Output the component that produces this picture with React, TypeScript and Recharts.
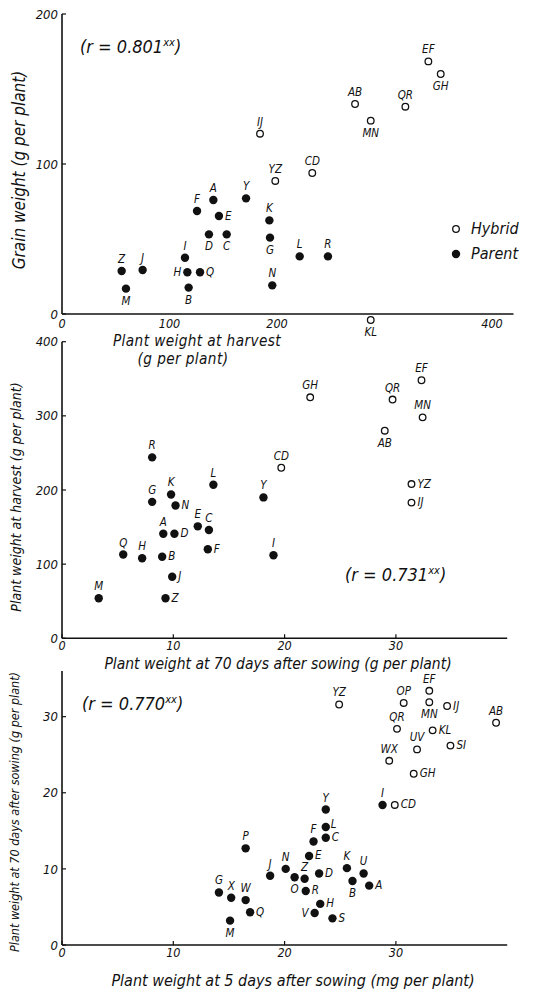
import React from "react";
import { ScatterChart, Scatter, XAxis, YAxis, Legend, ReferenceLine } from "recharts";

type Pt = [string, number, number];
type Side = "t" | "b" | "l" | "r" | "tr";

// panel 1: plant weight at harvest (x) vs grain weight (y), g per plant
const harvestGrainParents: Pt[] = [
  ["Z", 55.5, 28.7], ["M", 59.5, 16.9], ["J", 75, 29.3], ["I", 114.4, 37.5],
  ["H", 116.6, 27.8], ["Q", 128.4, 27.8], ["B", 117.8, 17.6], ["F", 125.6, 68.7],
  ["A", 140.8, 76], ["E", 146, 65.3], ["D", 136.7, 53.1], ["C", 153.2, 53.1],
  ["Y", 171.2, 77.1], ["K", 192.9, 62.4], ["G", 193.5, 50.9], ["N", 195.6, 19.1],
  ["L", 221.1, 38.4], ["R", 247.4, 38.4],
];
const harvestGrainHybrids: Pt[] = [
  ["IJ", 184.2, 120.2], ["YZ", 198.4, 88.7], ["CD", 232.8, 94], ["AB", 272.6, 140],
  ["MN", 287.2, 128.9], ["QR", 319.4, 138.2], ["EF", 340.8, 168.4], ["GH", 352.3, 160],
  ["KL", 287.2, -4],
];

// panel 2: plant weight at 70 days (x) vs plant weight at harvest (y)
const day70HarvestParents: Pt[] = [
  ["M", 3.3, 54], ["Q", 5.5, 113], ["H", 7.2, 108], ["R", 8.1, 244], ["G", 8.1, 184],
  ["A", 9.1, 141], ["B", 9.0, 110], ["K", 9.8, 194], ["N", 10.2, 179], ["D", 10.1, 141],
  ["J", 9.9, 83], ["Z", 9.3, 54], ["E", 12.2, 151], ["C", 13.2, 146], ["F", 13.1, 120],
  ["L", 13.6, 207], ["Y", 18.1, 190], ["I", 19.0, 112],
];
const day70HarvestHybrids: Pt[] = [
  ["GH", 22.3, 325], ["CD", 19.7, 230], ["QR", 29.7, 322], ["AB", 29.0, 280],
  ["EF", 32.3, 348], ["MN", 32.4, 298], ["YZ", 31.4, 208], ["IJ", 31.4, 183],
];

// panel 3: plant weight at 5 days, mg (x) vs plant weight at 70 days, g (y)
const day5Day70Parents: Pt[] = [
  ["G", 14.1, 6.9], ["X", 15.2, 6.2], ["W", 16.5, 5.9], ["Q", 16.9, 4.3], ["M", 15.1, 3.2],
  ["P", 16.5, 12.7], ["J", 18.7, 9.1], ["N", 20.1, 10.0], ["O", 20.9, 8.9], ["Z", 21.8, 8.7],
  ["R", 21.9, 7.1], ["E", 22.2, 11.7], ["F", 22.6, 13.6], ["V", 22.7, 4.2], ["H", 23.2, 5.4],
  ["D", 23.1, 9.4], ["L", 23.7, 15.5], ["C", 23.7, 14.1], ["Y", 23.7, 17.8], ["S", 24.3, 3.5],
  ["K", 25.6, 10.1], ["B", 26.1, 8.4], ["U", 27.1, 9.4], ["A", 27.6, 7.8], ["I", 28.8, 18.4],
];
const day5Day70Hybrids: Pt[] = [
  ["YZ", 24.9, 31.6], ["OP", 30.7, 31.8], ["EF", 33.0, 33.4], ["MN", 33.0, 31.9],
  ["IJ", 34.6, 31.4], ["QR", 30.1, 28.4], ["KL", 33.3, 28.2], ["AB", 39.0, 29.2],
  ["UV", 31.9, 25.7], ["SI", 34.9, 26.2], ["WX", 29.4, 24.2], ["GH", 31.6, 22.5],
  ["CD", 29.9, 18.4],
];

const correlations = ["0.801", "0.731", "0.770"];

// where each point's letter sits (default: above)
const sides1: Record<string, Side> = {
  M: "b", H: "l", Q: "r", B: "b", E: "r", D: "b", C: "b", G: "b", MN: "b", GH: "b", KL: "b",
};
const sides2: Record<string, Side> = {
  B: "r", N: "r", D: "r", J: "r", Z: "r", F: "r", AB: "b", YZ: "r", IJ: "r",
};
const sides3: Record<string, Side> = {
  Q: "r", M: "b", O: "b", R: "r", E: "r", V: "l", H: "r", D: "r", L: "tr", C: "r",
  S: "r", B: "b", A: "r", MN: "b", IJ: "r", KL: "r", SI: "r", GH: "r", CD: "r",
};

const toRows = (pts: Pt[]) => pts.map(([name, x, y]) => ({ name, x, y }));

const FONT = "'DejaVu Sans', 'Liberation Sans', sans-serif";
const txt: React.CSSProperties = { fontFamily: FONT, fontStyle: "italic", fontStretch: "condensed" };
const INK = "#111";

const makeShape = (hollow: boolean, sides: Record<string, Side>) => (props: any) => {
  const { cx, cy, payload } = props;
  const side = sides[payload.name] ?? "t";
  let tx = cx;
  let ty = cy - 8;
  let anchor: "middle" | "start" | "end" = "middle";
  if (side === "b") ty = cy + 16;
  if (side === "l") { tx = cx - 6; ty = cy + 3.5; anchor = "end"; }
  if (side === "r") { tx = cx + 6; ty = cy + 3.5; anchor = "start"; }
  if (side === "tr") { tx = cx + 5; ty = cy + 0.5; anchor = "start"; }
  return (
    <g>
      {hollow ? (
        <circle cx={cx} cy={cy} r={3.3} fill="#fff" stroke={INK} strokeWidth={1.3} />
      ) : (
        <circle cx={cx} cy={cy} r={4.2} fill={INK} />
      )}
      <text x={tx} y={ty} textAnchor={anchor} fontSize={11.5} fill={INK} style={txt}>
        {payload.name}
      </text>
    </g>
  );
};

const renderLegend = (props: any) => (
  <div style={{ ...txt, fontSize: 16, color: INK, lineHeight: "25px" }}>
    {props.payload.map((e: any) => (
      <div key={e.value} style={{ display: "flex", alignItems: "center" }}>
        <svg width={12} height={12} style={{ marginRight: 9 }}>
          {e.value === "Hybrid" ? (
            <circle cx={6} cy={6} r={3.3} fill="#fff" stroke={INK} strokeWidth={1.3} />
          ) : (
            <circle cx={6} cy={6} r={4.2} fill={INK} />
          )}
        </svg>
        <span>{e.value}</span>
      </div>
    ))}
  </div>
);

interface PanelProps {
  top: number;
  height: number;
  margin: { top: number; right: number; bottom: number; left: number };
  xDomain: [number, number];
  yDomain: [number, number];
  yMax: number;
  xTicks: number[];
  yTicks: number[];
  parents: Pt[];
  hybrids: Pt[];
  sides: Record<string, Side>;
  xTitle: React.ReactNode;
  yTitle: React.ReactNode;
  xTickLine?: boolean;
  legend?: boolean;
}

const Panel = (p: PanelProps) => (
  <div style={{ position: "absolute", left: 0, top: p.top }}>
    <ScatterChart width={541} height={p.height} margin={p.margin}>
      <XAxis
        type="number"
        dataKey="x"
        domain={p.xDomain}
        ticks={p.xTicks}
        axisLine={false}
        tickLine={p.xTickLine === false ? false : { stroke: INK, strokeWidth: 1.2 }}
        tickSize={p.xTickLine === false ? 0 : -4}
        tickMargin={p.xTickLine === false ? -2 : 7}
        height={30}
        tick={{ fill: INK, fontSize: 12.5, ...txt }}
        label={() => p.xTitle}
      />
      <YAxis
        type="number"
        dataKey="y"
        domain={p.yDomain}
        ticks={p.yTicks}
        axisLine={false}
        tickLine={{ stroke: INK, strokeWidth: 1.2 }}
        tickSize={-4}
        tickMargin={8}
        width={40}
        tick={{ fill: INK, fontSize: 13, ...txt }}
        label={() => p.yTitle}
      />
      <ReferenceLine y={0} stroke={INK} strokeWidth={1.6} />
      <ReferenceLine segment={[{ x: 0, y: 0 }, { x: 0, y: p.yMax }]} stroke={INK} strokeWidth={1.6} />
      {p.legend && (
        <Legend
          layout="vertical"
          align="center"
          verticalAlign="middle"
          wrapperStyle={{ top: 216, left: 450, width: 90 }}
          content={renderLegend}
        />
      )}
      <Scatter
        name="Hybrid"
        data={toRows(p.hybrids)}
        shape={makeShape(true, p.sides)}
        isAnimationActive={false}
      />
      <Scatter
        name="Parent"
        data={toRows(p.parents)}
        shape={makeShape(false, p.sides)}
        isAnimationActive={false}
      />
    </ScatterChart>
  </div>
);

const RNote = ({ left, top, value }: { left: number; top: number; value: string }) => (
  <div style={{ position: "absolute", left, top, ...txt, fontSize: 18, color: INK, whiteSpace: "nowrap" }}>
    (r = {value}
    <sup style={{ fontSize: 11 }}>xx</sup>)
  </div>
);

const yTitle = (x: number, y: number, size: number, s: string) => (
  <text x={x} y={y} transform={`rotate(-90 ${x} ${y})`} textAnchor="middle" fontSize={size} fill={INK} style={txt}>
    {s}
  </text>
);

export default function App() {
  return (
    <div style={{ position: "absolute", left: 0, top: 0, width: 541, height: 994, background: "#fff", overflow: "hidden" }}>
      <Panel
        top={0}
        height={380}
        margin={{ top: 14, right: 27.5, bottom: 28.5, left: 22 }}
        xDomain={[0, 420]}
        yDomain={[-5, 200]}
        yMax={200}
        xTicks={[0, 100, 200, 400]}
        yTicks={[0, 100, 200]}
        xTickLine={false}
        parents={harvestGrainParents}
        hybrids={harvestGrainHybrids}
        sides={sides1}
        legend
        xTitle={
          <text fontSize={15.2} fill={INK} style={{ ...txt, letterSpacing: 0.4 }}>
            <tspan x={197} y={346} textAnchor="middle">Plant weight at harvest</tspan>
            <tspan x={183} y={364} textAnchor="middle">(g per plant)</tspan>
          </text>
        }
        yTitle={yTitle(25, 170, 17, "Grain weight (g per plant)")}
      />
      <Panel
        top={320}
        height={360}
        margin={{ top: 21.7, right: 33.8, bottom: 11.7, left: 22 }}
        xDomain={[0, 40]}
        yDomain={[0, 400]}
        yMax={400}
        xTicks={[0, 10, 20, 30]}
        yTicks={[0, 100, 200, 300, 400]}
        parents={day70HarvestParents}
        hybrids={day70HarvestHybrids}
        sides={sides2}
        xTitle={
          <text x={278} y={349} textAnchor="middle" fontSize={15.5} fill={INK} style={txt}>
            Plant weight at 70 days after sowing (g per plant)
          </text>
        }
        yTitle={yTitle(21, 177, 14, "Plant weight at harvest (g per plant)")}
      />
      <Panel
        top={655}
        height={339}
        margin={{ top: 16, right: 33.8, bottom: 19, left: 22 }}
        xDomain={[0, 40]}
        yDomain={[0, 36]}
        yMax={36}
        xTicks={[0, 10, 20, 30]}
        yTicks={[0, 10, 20, 30]}
        parents={day5Day70Parents}
        hybrids={day5Day70Hybrids}
        sides={sides3}
        xTitle={
          <text x={293} y={331} textAnchor="middle" fontSize={16} fill={INK} style={txt}>
            Plant weight at 5 days after sowing (mg per plant)
          </text>
        }
        yTitle={yTitle(19, 157, 12.5, "Plant weight at 70 days after sowing (g per plant)")}
      />
      <RNote left={80} top={36} value={correlations[0]} />
      <RNote left={345} top={564} value={correlations[1]} />
      <RNote left={82} top={693} value={correlations[2]} />
    </div>
  );
}
